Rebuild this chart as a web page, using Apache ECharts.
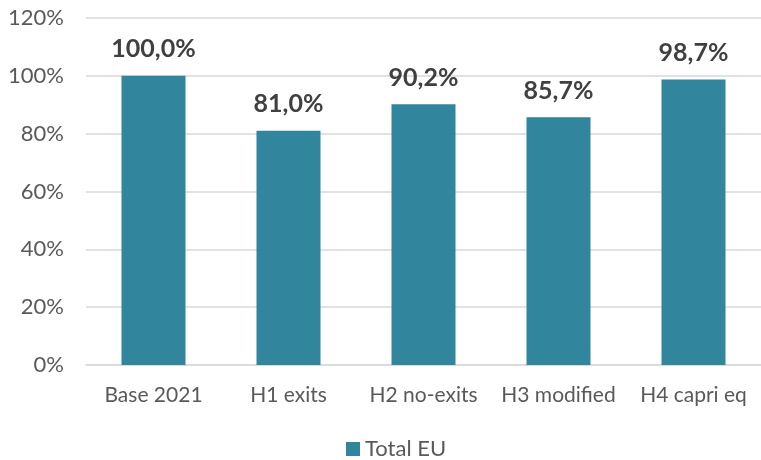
<!DOCTYPE html>
<html>
<head>
<meta charset="utf-8">
<script src="https://cdn.jsdelivr.net/npm/echarts@6/dist/echarts.min.js"></script>
<style>
  html, body { margin: 0; padding: 0; background: #fff; }
  #chart { width: 761px; height: 460px; }
</style>
</head>
<body>
<div id="chart"></div>
<script>
// categories and values
const scenarios = ["Base 2021", "H1 exits", "H2 no-exits", "H3 modified", "H4 capri eq"];
const totalEU = [100.0, 81.0, 90.2, 85.7, 98.7];
const seriesName = "Total EU";

let myChart = echarts.init(document.getElementById("chart"));
myChart.setOption({
  animation: false,
  textStyle: { fontFamily: "Lato" },
  grid: {
    left: 86,
    right: 0,
    top: 18,
    bottom: 95
  },
  legend: {
    data: [seriesName],
    left: 346,
    top: 436,
    icon: "rect",
    itemWidth: 14,
    itemHeight: 14,
    itemGap: 5,
    padding: 0,
    textStyle: { fontSize: 22, lineHeight: 26, color: "#595959", fontFamily: "Lato" }
  },
  xAxis: {
    type: "category",
    data: scenarios,
    axisLine: { show: true, lineStyle: { color: "#d9d9d9", width: 1.5 } },
    axisTick: { show: false },
    axisLabel: {
      color: "#595959",
      fontSize: 21,
      margin: 20,
      interval: 0
    }
  },
  yAxis: {
    type: "value",
    min: 0,
    max: 120,
    interval: 20,
    axisLine: { show: false },
    axisTick: { show: false },
    splitLine: { lineStyle: { color: "#d9d9d9", width: 1.5 } },
    axisLabel: {
      formatter: "{value}%",
      color: "#595959",
      fontSize: 22,
      margin: 22
    }
  },
  series: [
    {
      name: seriesName,
      type: "bar",
      data: totalEU,
      barWidth: 64,
      itemStyle: { color: "#31859C" },
      label: {
        show: true,
        position: "top",
        distance: 14,
        color: "#404040",
        fontWeight: "bold",
        fontSize: 25,
        fontFamily: "Lato",
        formatter: function (p) {
          return p.value.toFixed(1).replace(".", ",") + "%";
        }
      }
    }
  ]
});
</script>
</body>
</html>
